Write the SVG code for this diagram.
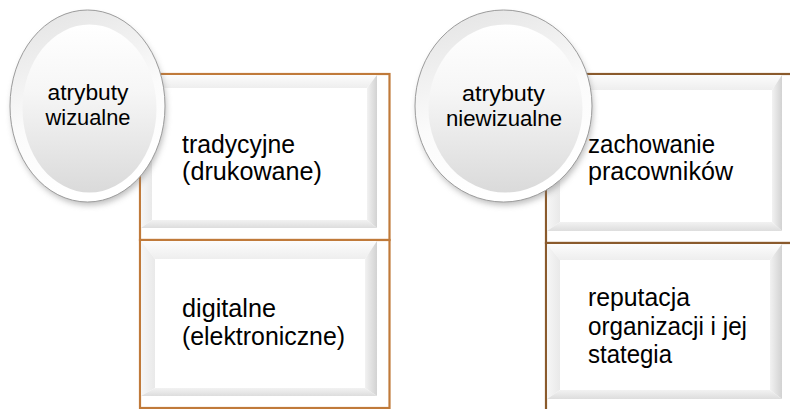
<svg xmlns="http://www.w3.org/2000/svg" width="790" height="409" viewBox="0 0 790 409">
<defs>
<style>
.lbl{font-family:"Liberation Sans",Arial,sans-serif;fill:#000;}
.bt{font-size:25px;}
.ct{font-size:22px;}
.boxL{fill:#fff;stroke:#C07A3A;stroke-width:2.2;}
.boxR{fill:#fff;stroke:#8A5A2C;stroke-width:2.2;}
.ftop{fill:url(#gTop);}
.fleft{fill:url(#gLeft);}
.fright{fill:url(#gRight);}
.fbot{fill:url(#gBot);}
.outer{fill:url(#gOuter);stroke:#9c9c9c;stroke-width:1;}
.inner{fill:url(#gInner);}
.shadow{fill:#777;opacity:0.5;filter:url(#blur);}
</style>
<linearGradient id="gTop" x1="0" y1="0" x2="0" y2="1"><stop offset="0" stop-color="#fcfcfc"/><stop offset="1" stop-color="#eeeeee"/></linearGradient>
<linearGradient id="gLeft" x1="0" y1="0" x2="1" y2="0"><stop offset="0" stop-color="#f6f6f6"/><stop offset="1" stop-color="#e9e9e9"/></linearGradient>
<linearGradient id="gRight" x1="0" y1="0" x2="1" y2="0"><stop offset="0" stop-color="#f2f2f2"/><stop offset="1" stop-color="#d2d2d2"/></linearGradient>
<linearGradient id="gBot" x1="0" y1="0" x2="0" y2="1"><stop offset="0" stop-color="#f2f2f2"/><stop offset="1" stop-color="#dddddd"/></linearGradient>
<linearGradient id="gOuter" x1="0" y1="0" x2="0.3" y2="1"><stop offset="0" stop-color="#e2e2e2"/><stop offset="0.6" stop-color="#fbfbfb"/><stop offset="1" stop-color="#ffffff"/></linearGradient>
<linearGradient id="gInner" x1="0" y1="0" x2="0" y2="1"><stop offset="0" stop-color="#ffffff"/><stop offset="0.4" stop-color="#f6f6f6"/><stop offset="1" stop-color="#dadada"/></linearGradient>
<filter id="blur" x="-20%" y="-20%" width="140%" height="140%"><feGaussianBlur stdDeviation="3"/></filter>
</defs>

<g id="connectors"></g>

<g id="box-tradycyjne">
<rect class="boxL" x="140" y="74" width="249.5" height="166"/>
<polygon class="ftop" points="141,75 377,75 367,88 152,88"/>
<polygon class="fleft" points="141,75 152,88 152,220 141,228"/>
<polygon class="fright" points="377,75 377,228 367,220 367,88"/>
<polygon class="fbot" points="141,228 152,220 367,220 377,228"/>
<text class="lbl bt" x="182" y="153" textLength="113" lengthAdjust="spacingAndGlyphs">tradycyjne</text>
<text class="lbl bt" x="182" y="180" textLength="140" lengthAdjust="spacingAndGlyphs">(drukowane)</text>
</g>

<g id="box-digitalne">
<rect class="boxL" x="140" y="240" width="249.5" height="168"/>
<polygon class="ftop" points="141,241 377,241 365,259 155,259"/>
<polygon class="fleft" points="141,241 155,259 155,388 141,396"/>
<polygon class="fright" points="377,241 377,396 365,388 365,259"/>
<polygon class="fbot" points="141,396 155,388 365,388 377,396"/>
<text class="lbl bt" x="182" y="317" textLength="94" lengthAdjust="spacingAndGlyphs">digitalne</text>
<text class="lbl bt" x="182" y="345" textLength="163" lengthAdjust="spacingAndGlyphs">(elektroniczne)</text>
</g>

<g id="box-zachowanie">
<rect class="boxR" x="546" y="74" width="250" height="169"/>
<polygon class="ftop" points="547,75 782,75 772,90 560,90"/>
<polygon class="fleft" points="547,75 560,90 560,222 547,231"/>
<polygon class="fright" points="782,75 782,231 772,222 772,90"/>
<polygon class="fbot" points="547,231 560,222 772,222 782,231"/>
<text class="lbl bt" x="588" y="153" textLength="127" lengthAdjust="spacingAndGlyphs">zachowanie</text>
<text class="lbl bt" x="588" y="180" textLength="145" lengthAdjust="spacingAndGlyphs">pracowników</text>
</g>

<g id="box-reputacja">
<rect class="boxR" x="546" y="243" width="250" height="170"/>
<polygon class="ftop" points="547,244 782,244 770,260 560,260"/>
<polygon class="fleft" points="547,244 560,260 560,390 547,399"/>
<polygon class="fright" points="782,244 782,399 770,390 770,260"/>
<polygon class="fbot" points="547,399 560,390 770,390 782,399"/>
<text class="lbl bt" x="588" y="306" textLength="102" lengthAdjust="spacingAndGlyphs">reputacja</text>
<text class="lbl bt" x="588" y="335" textLength="159" lengthAdjust="spacingAndGlyphs">organizacji i jej</text>
<text class="lbl bt" x="588" y="363" textLength="84" lengthAdjust="spacingAndGlyphs">stategia</text>
</g>

<g id="circle-wizualne">
<ellipse class="shadow" cx="89" cy="110" rx="77" ry="95"/>
<ellipse class="outer" cx="87.5" cy="106" rx="77.5" ry="96"/>
<ellipse class="inner" cx="89.5" cy="108.5" rx="67" ry="84"/>
<text class="lbl ct" x="88" y="100" text-anchor="middle" textLength="81" lengthAdjust="spacingAndGlyphs">atrybuty</text>
<text class="lbl ct" x="88" y="125" text-anchor="middle" textLength="85" lengthAdjust="spacingAndGlyphs">wizualne</text>
</g>

<g id="circle-niewizualne">
<ellipse class="shadow" cx="505" cy="110" rx="88" ry="95"/>
<ellipse class="outer" cx="503.5" cy="106" rx="88.5" ry="96"/>
<ellipse class="inner" cx="505.5" cy="108.5" rx="77" ry="84"/>
<text class="lbl ct" x="503.5" y="101" text-anchor="middle" textLength="83" lengthAdjust="spacingAndGlyphs">atrybuty</text>
<text class="lbl ct" x="504" y="126" text-anchor="middle" textLength="116" lengthAdjust="spacingAndGlyphs">niewizualne</text>
</g>
</svg>
